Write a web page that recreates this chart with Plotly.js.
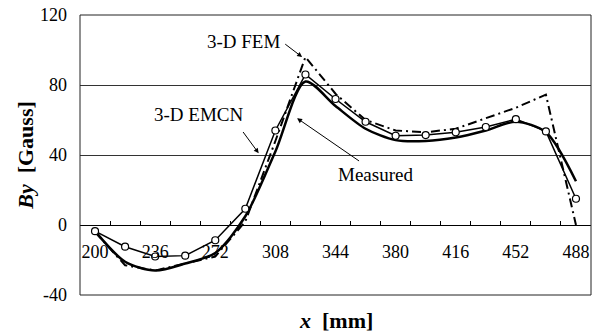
<!DOCTYPE html>
<html>
<head>
<meta charset="utf-8">
<script src="https://cdn.plot.ly/plotly-3.0.1.min.js"></script>
<style>html,body{margin:0;padding:0;background:#fff;}#chart{width:603px;height:336px;}</style>
</head>
<body>
<div id="chart"></div>
<script>
// Positions along the magnet (mm)
const xPos = [200, 218, 236, 254, 272, 290, 308, 326, 344, 362, 380, 398, 416, 434, 452, 470, 488];
// Tick labels shown on the category axis
const xTickLabels = [200, 236, 272, 308, 344, 380, 416, 452, 488];
// Tick marks between categories
const xTickMarks = [191, 209, 227, 245, 263, 281, 299, 317, 335, 353, 371, 389, 407, 425, 443, 461, 479, 497];
const yTicks = [-40, 0, 40, 80, 120];

// By [Gauss]
const measured = [-3.5, -21, -26, -22, -16, 5, 42, 82, 68, 55, 48.5, 48, 50, 54, 59, 53, 25];
const emcn3d   = [-3.5, -12.4, -18, -17.5, -8.7, 9.3, 54, 86, 72, 59, 51, 51.4, 53, 56, 60.5, 53.5, 15];
const fem3d    = [-4, -23, -26, -22, -18, 2, 48, 96, 75, 60, 54, 53, 55, 61, 67, 74.5, 0];

const serif = 'Liberation Serif, Times New Roman, serif';

const traces = [
  {x: xPos, y: fem3d, name: '3-D FEM', mode: 'lines', type: 'scatter',
   line: {color: '#000', width: 2, dash: '9px,4px,2px,4px'}},
  {x: xPos, y: measured, name: 'Measured', mode: 'lines', type: 'scatter',
   line: {color: '#000', width: 2.5, shape: 'spline', smoothing: 0.8}},
  {x: xPos, y: emcn3d, name: '3-D EMCN', mode: 'lines+markers', type: 'scatter',
   line: {color: '#000', width: 1.5},
   marker: {symbol: 'circle', size: 7, color: '#fff', line: {color: '#000', width: 1.2}}},
  // x tick labels live on an overlaying axis; hidden helper trace
  {x: [xPos[0]], y: [null], xaxis: 'x2', yaxis: 'y', mode: 'markers', type: 'scatter',
   hoverinfo: 'skip', showlegend: false, marker: {opacity: 0}}
];

const layout = {
  width: 603, height: 336,
  margin: {l: 80, r: 12, t: 15, b: 41},
  paper_bgcolor: '#fff', plot_bgcolor: '#fff',
  showlegend: false,
  font: {family: serif, color: '#000', size: 18},
  xaxis: {
    range: [191, 497], anchor: 'free', position: 0.25,
    tickmode: 'array', tickvals: xTickMarks, showticklabels: false,
    ticks: 'inside', ticklen: 4, tickwidth: 1, tickcolor: '#000',
    showline: true, linecolor: '#000', linewidth: 1,
    showgrid: false, zeroline: false
  },
  xaxis2: {
    overlaying: 'x', matches: 'x', anchor: 'free', position: 0.25,
    tickmode: 'array', tickvals: xTickLabels, ticktext: xTickLabels.map(String),
    ticks: '', showline: false, showgrid: false, zeroline: false,
    ticklabelstandoff: 14,
    tickfont: {family: serif, size: 18, color: '#000'}
  },
  yaxis: {
    range: [-40, 120], tickmode: 'array', tickvals: yTicks, ticktext: yTicks.map(String),
    ticks: '', ticklabelstandoff: 12,
    tickfont: {family: serif, size: 18, color: '#000'},
    showgrid: true, gridcolor: '#333', gridwidth: 1,
    zeroline: false, showline: false,
    title: {text: '<b><i>By</i>  [Gauss]</b>', font: {family: serif, size: 22, color: '#000'}, standoff: 0}
  },
  shapes: [
    {type: 'rect', xref: 'paper', yref: 'paper', x0: 0, x1: 1, y0: 0, y1: 1,
     line: {color: '#222', width: 1}}
  ],
  annotations: [
    {xref: 'paper', yref: 'paper', x: 0.5, y: -0.09, yanchor: 'middle', showarrow: false,
     text: '<b><i>x</i>  [mm]</b>', font: {family: serif, size: 22, color: '#000'}},
    // 3-D FEM label + arrow
    {xref: 'x', yref: 'y', x: 289, y: 105, showarrow: false, text: '3-D FEM',
     font: {family: serif, size: 19, color: '#000'}},
    {xref: 'x', yref: 'y', x: 324, y: 96, axref: 'x', ayref: 'y', ax: 313, ay: 104,
     showarrow: true, arrowhead: 2, arrowsize: 1, arrowwidth: 1, arrowcolor: '#000', text: ''},
    // 3-D EMCN label + arrow
    {xref: 'x', yref: 'y', x: 262, y: 63, showarrow: false, text: '3-D EMCN',
     font: {family: serif, size: 19, color: '#000'}},
    {xref: 'x', yref: 'y', x: 298, y: 41, axref: 'x', ayref: 'y', ax: 288, ay: 54,
     showarrow: true, arrowhead: 2, arrowsize: 1, arrowwidth: 1, arrowcolor: '#000', text: ''},
    // Measured label + arrow
    {xref: 'x', yref: 'y', x: 368, y: 29, showarrow: false, text: 'Measured',
     font: {family: serif, size: 19, color: '#000'}},
    {xref: 'x', yref: 'y', x: 321, y: 61, axref: 'x', ayref: 'y', ax: 359, ay: 36,
     showarrow: true, arrowhead: 2, arrowsize: 1, arrowwidth: 1, arrowcolor: '#000', text: ''}
  ]
};

Plotly.newPlot('chart', traces, layout, {displayModeBar: false, staticPlot: true});
</script>
</body>
</html>
